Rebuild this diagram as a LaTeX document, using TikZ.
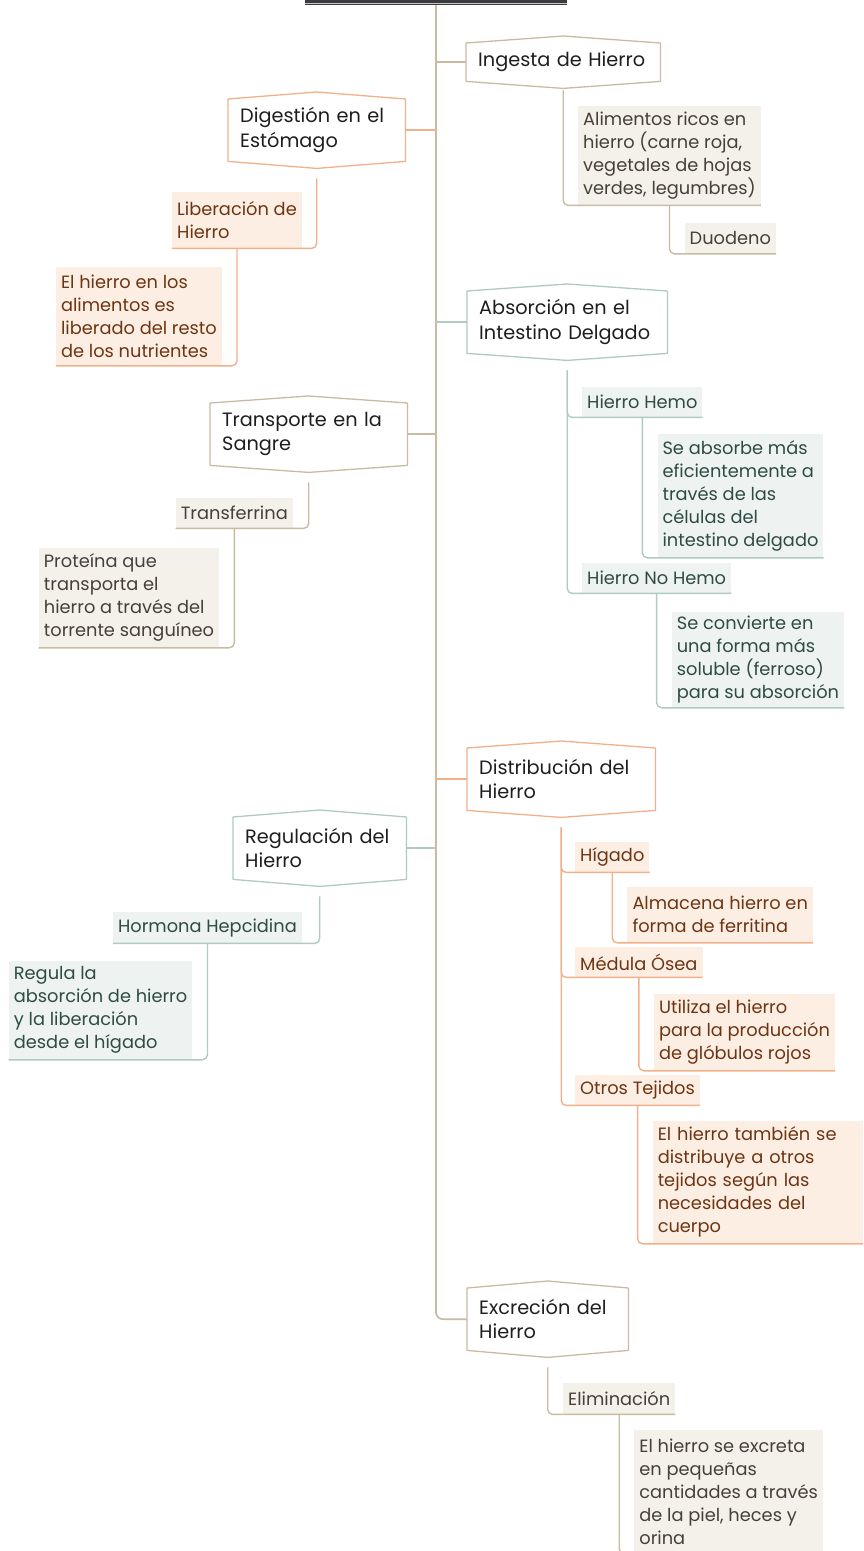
\documentclass[tikz,border=0pt]{standalone}
\usepackage{fontspec}
\setmainfont{Poppins}
\usetikzlibrary{calc}
\definecolor{tanL}{HTML}{C8BBA2}
\definecolor{tanF}{HTML}{F4F0EA}
\definecolor{tanT}{HTML}{45403A}
\definecolor{orL}{HTML}{F2B08A}
\definecolor{orF}{HTML}{FDEEE4}
\definecolor{orT}{HTML}{6E3513}
\definecolor{teL}{HTML}{AECAC2}
\definecolor{teF}{HTML}{EEF3F1}
\definecolor{teT}{HTML}{2F4B45}
\definecolor{mainT}{HTML}{1E1E1E}
\newcommand\hexshape[2]{\draw[#2, line width=1.3pt, line join=round] (#1.north west) -- ([yshift=7pt]#1.north) -- (#1.north east) -- (#1.south east) -- ([yshift=-7pt]#1.south) -- (#1.south west) -- cycle;}
\begin{document}
\begin{tikzpicture}[x=1pt,y=-1pt,
  mainbox/.style={inner xsep=12pt, inner ysep=0pt, align=left, anchor=north west, text=mainT, font=\fontsize{19.3}{24.5}\selectfont},
  subbox/.style={inner xsep=5pt, inner ysep=0pt, align=left, anchor=north west, font=\fontsize{17.8}{23}\selectfont},
  tanbox/.style={subbox, fill=tanF, text=tanT},
  orbox/.style={subbox, fill=orF, text=orT},
  tebox/.style={subbox, fill=teF, text=teT},
  conn/.style={line width=1.4pt, rounded corners=5pt},
  spineline/.style={line width=1.7pt, tanL, rounded corners=7pt}]
\clip (0,0) rectangle (863,1551);
\useasboundingbox (0,0) rectangle (863,1551);
% root bar
\node[fill={rgb,255:red,58;green,60;blue,63}, minimum width=262pt, minimum height=14pt, inner sep=0pt, anchor=south] (root) at (436,5) {};
\draw[gray!45, line width=1.2pt] ([yshift=1.2pt]root.south west) -- ([yshift=1.2pt]root.south east);
% main topics
\node[mainbox, text width=170pt, minimum height=38pt] (ing) at (466,43) {Ingesta de Hierro};
\node[mainbox, text width=153pt, minimum height=62pt] (dig) at (228,99) {Digestión en el\\Estómago};
\node[mainbox, text width=176pt, minimum height=62pt] (abs) at (467,291) {Absorción en el\\Intestino Delgado};
\node[mainbox, text width=173pt, minimum height=62pt] (tra) at (210,403) {Transporte en la\\Sangre};
\node[mainbox, text width=164pt, minimum height=62pt] (dis) at (467,748) {Distribución del\\Hierro};
\node[mainbox, text width=149pt, minimum height=62pt] (reg) at (233,817) {Regulación del\\Hierro};
\node[mainbox, text width=137pt, minimum height=62pt] (exc) at (467,1288) {Excreción del\\Hierro};
\hexshape{ing}{tanL}
\hexshape{dig}{orL}
\hexshape{abs}{teL}
\hexshape{tra}{tanL}
\hexshape{dis}{orL}
\hexshape{reg}{teL}
\hexshape{exc}{tanL}
% sub topics: Ingesta
\node[tanbox, minimum height=99pt] (ali) at (578,106) {Alimentos ricos en\\hierro (carne roja,\\vegetales de hojas\\verdes, legumbres)};
\node[tanbox, minimum height=31pt] (duo) at ($(ali.south)+(15,17)$) {Duodeno};
% Digestion
\node[orbox, anchor=north east, minimum height=56pt] (lib) at (302,192) {Liberación de\\Hierro};
\node[orbox, anchor=north east, minimum height=99pt] (elh) at ($(lib.south)+(-15,18)$) {El hierro en los\\alimentos es\\liberado del resto\\de los nutrientes};
% Absorcion
\node[tebox, minimum height=30pt] (hem) at (582,387) {Hierro Hemo};
\node[tebox, minimum height=124pt] (sab) at ($(hem.south)+(15,16)$) {Se absorbe más\\eficientemente a\\través de las\\células del\\intestino delgado};
\node[tebox, minimum height=30pt] (nhe) at (582,563) {Hierro No Hemo};
\node[tebox, minimum height=96pt] (sco) at ($(nhe.south)+(15,18)$) {Se convierte en\\una forma más\\soluble (ferroso)\\para su absorción};
% Transporte
\node[tanbox, anchor=north east, minimum height=30pt] (trf) at (293,498) {Transferrina};
\node[tanbox, anchor=north east, minimum height=100pt] (pro) at ($(trf.south)+(-15,19)$) {Proteína que\\transporta el\\hierro a través del\\torrente sanguíneo};
% Distribucion
\node[orbox, minimum height=30pt] (hig) at (575,842) {Hígado};
\node[orbox, minimum height=56pt] (alm) at ($(hig.south)+(15,14)$) {Almacena hierro en\\forma de ferritina};
\node[orbox, minimum height=30pt] (med) at (575,947) {Médula Ósea};
\node[orbox, minimum height=77pt] (uti) at ($(med.south)+(15,16)$) {Utiliza el hierro\\para la producción\\de glóbulos rojos};
\node[orbox, minimum height=30pt] (otr) at (575,1075) {Otros Tejidos};
\node[orbox, minimum height=123pt, text width=205pt] (ehd) at ($(otr.south)+(15,15)$) {El hierro también se\\distribuye a otros\\tejidos según las\\necesidades del\\cuerpo};
% Regulacion
\node[tebox, anchor=north east, minimum height=31pt] (hor) at (302,912) {Hormona Hepcidina};
\node[tebox, anchor=north east, minimum height=99pt] (rgl) at ($(hor.south)+(-15,17)$) {Regula la\\absorción de hierro\\y la liberación\\desde el hígado};
% Excrecion
\node[tanbox, minimum height=31pt] (eli) at (563,1383) {Eliminación};
\node[tanbox, minimum height=124pt] (exh) at ($(eli.south)+(15,15)$) {El hierro se excreta\\en pequeñas\\cantidades a través\\de la piel, heces y\\orina};
% spine and branches
\draw[spineline] (root.south) |- (exc.west);
\draw[line width=1.5pt, tanL] (root.south |- ing.west) -- (ing.west);
\draw[line width=1.5pt, orL] (root.south |- dig.east) -- (dig.east);
\draw[line width=1.5pt, teL] (root.south |- abs.west) -- (abs.west);
\draw[line width=1.5pt, tanL] (root.south |- tra.east) -- (tra.east);
\draw[line width=1.5pt, orL] (root.south |- dis.west) -- (dis.west);
\draw[line width=1.5pt, teL] (root.south |- reg.east) -- (reg.east);
% sub connectors
\draw[conn, tanL] ([yshift=-9pt]ing.south) |- (ali.south east);
\draw[conn, tanL] (ali.south) |- (duo.south east);
\draw[conn, orL] ([yshift=-17pt]dig.south) |- (lib.south west);
\draw[conn, orL] (lib.south) |- (elh.south west);
\draw[conn, teL] ([yshift=-17pt]abs.south) |- (hem.south east);
\draw[conn, teL] (hem.south) |- (sab.south east);
\draw[conn, teL] ([yshift=-17pt]abs.south) |- (nhe.south east);
\draw[conn, teL] (nhe.south) |- (sco.south east);
\draw[conn, tanL] ([yshift=-17pt]tra.south) |- (trf.south west);
\draw[conn, tanL] (trf.south) |- (pro.south west);
\draw[conn, orL] ([yshift=-17pt]dis.south) |- (hig.south east);
\draw[conn, orL] (hig.south) |- (alm.south east);
\draw[conn, orL] ([yshift=-17pt]dis.south) |- (med.south east);
\draw[conn, orL] (med.south) |- (uti.south east);
\draw[conn, orL] ([yshift=-17pt]dis.south) |- (otr.south east);
\draw[conn, orL] (otr.south) |- (ehd.south east);
\draw[conn, teL] ([yshift=-17pt]reg.south) |- (hor.south west);
\draw[conn, teL] (hor.south) |- (rgl.south west);
\draw[conn, tanL] ([yshift=-17pt]exc.south) |- (eli.south east);
\draw[conn, tanL] (eli.south) |- (exh.south east);
\end{tikzpicture}
\end{document}
